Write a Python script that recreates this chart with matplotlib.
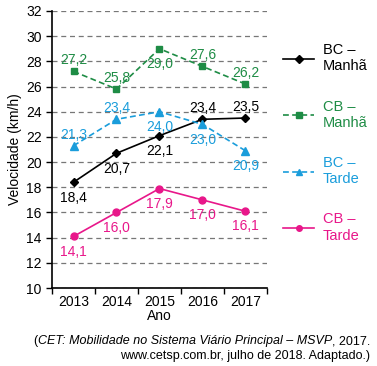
import numpy as np
import matplotlib.pyplot as plt

plt.rcParams['font.family'] = ['Liberation Sans', 'DejaVu Sans']

anos = ['2013', '2014', '2015', '2016', '2017']
bc_manha = [18.4, 20.7, 22.1, 23.4, 23.5]
cb_manha = [27.2, 25.8, 29.0, 27.6, 26.2]
bc_tarde = [21.3, 23.4, 24.0, 23.0, 20.9]
cb_tarde = [14.1, 16.0, 17.9, 17.0, 16.1]

# label placement: +1 above, -1 below
pos_bc_manha = [-1, -1, -1, 1, 1]
pos_cb_manha = [1, 1, -1, 1, 1]
pos_bc_tarde = [1, 1, -1, -1, -1]
pos_cb_tarde = [-1, -1, -1, -1, -1]

series = [
    ('BC –\nManhã', bc_manha, pos_bc_manha, '#000000', '-', 'D', 3.8),
    ('CB –\nManhã', cb_manha, pos_cb_manha, '#1e8c45', (0, (3.5, 2)), 's', 3.8),
    ('BC –\nTarde', bc_tarde, pos_bc_tarde, '#1a9ddb', (0, (3.5, 2)), '^', 6),
    ('CB –\nTarde', cb_tarde, pos_cb_tarde, '#e8178a', '-', 'o', 5),
]

fig = plt.figure(figsize=(3.77, 3.66), dpi=100)
ax = fig.add_axes([0.138, 0.213, 0.57, 0.757])

x = np.arange(len(anos))
for nome, vals, pos, cor, ls, mk, ms in series:
    ax.plot(x, vals, color=cor, linestyle=ls, marker=mk, markersize=ms,
            linewidth=1.2, label=nome, zorder=3)
    for xi, v, p in zip(x, vals, pos):
        ax.annotate(f'{v:.1f}'.replace('.', ','), (xi, v),
                    xytext=(0, 8 if p > 0 else -11), textcoords='offset points',
                    ha='center', va='center', color=cor, fontsize=10, zorder=4)

ax.set_xlim(-0.5, 4.5)
ax.set_ylim(10, 32)
ax.set_yticks(np.arange(10, 33, 2))
ax.set_xticks(x)
ax.set_xticklabels(anos)
ax.set_xticks(np.arange(-0.5, 4.6, 1), minor=True)
ax.tick_params(axis='x', which='major', length=0, labelsize=10, pad=5)
ax.tick_params(axis='x', which='minor', length=4, width=1)
ax.tick_params(axis='y', length=4, width=1, labelsize=10)
ax.yaxis.grid(True, linestyle=(0, (4, 3)), color='#777777', linewidth=0.9)
ax.set_axisbelow(True)
for s in ['top', 'right']:
    ax.spines[s].set_visible(False)
ax.spines['left'].set_linewidth(1.2)
ax.spines['bottom'].set_linewidth(1.2)
ax.set_xlabel('Ano', fontsize=10, labelpad=0)
ax.set_ylabel('Velocidade (km/h)', fontsize=10, labelpad=3)

leg = ax.legend(loc='upper left', bbox_to_anchor=(1.05, 0.905), frameon=False,
                fontsize=10.5, handlelength=2.1, labelspacing=1.8, handletextpad=0.6,
                borderaxespad=0)
for txt, (_, _, _, cor, _, _, _) in zip(leg.get_texts(), series):
    txt.set_color(cor)
for h in leg.legend_handles:
    h.set_markersize(4)

# source note
fig.canvas.draw()
r = fig.canvas.get_renderer()
t1 = fig.text(370 / 377, 1 - 341 / 366, ', 2017.', ha='right', va='center', fontsize=9)
bb = t1.get_window_extent(r)
t2 = fig.text(bb.x0 / fig.bbox.width, 1 - 341 / 366,
              'CET: Mobilidade no Sistema Viário Principal – MSVP',
              ha='right', va='center', fontsize=9, style='italic')
bb2 = t2.get_window_extent(r)
fig.text(bb2.x0 / fig.bbox.width, 1 - 341 / 366, '(', ha='right', va='center', fontsize=9)
fig.text(370 / 377, 1 - 356 / 366, 'www.cetsp.com.br, julho de 2018. Adaptado.)',
         ha='right', va='center', fontsize=9)

fig.savefig('out.png', dpi=100)
